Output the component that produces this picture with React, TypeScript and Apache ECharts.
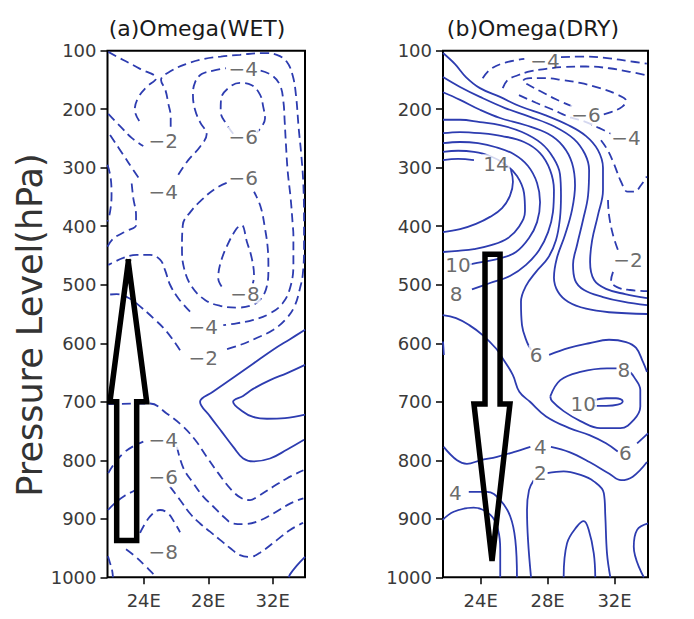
import React, { useEffect, useRef } from 'react';
import * as echarts from 'echarts';

// ---------- axes ----------
const LON_TICKS = [24, 28, 32];
const LON_MIN = 21.75;
const LON_MAX = 34;
const P_MIN = 100;
const P_MAX = 1000;
const P_STEP = 100;

// ---------- (a) Omega (WET) : negative contours (dashed), [lon, hPa] ----------
const wetA = [[21.8,102],[22.73,116],[23.77,131],[24.76,147],[24.18,162],[23.66,180],[23.44,201],[23.72,220]];
const wetB = [[21.8,208],[22.53,229],[23.25,249],[23.97,263]];
const wetC = [[25.67,230],[25.67,213],[25.52,190],[25.34,167],[25.07,150],[25.73,134],[26.7,122],[27.74,114],[28.77,110],[29.97,107],[31.41,104],[32.25,107],[32.87,119],[33.24,143],[33.44,176],[33.61,233],[33.77,278],[33.9,330],[33.94,398],[33.94,437],[33.86,483],[33.69,506],[33.38,535],[32.87,557],[32.04,577],[31.0,591],[29.97,603],[28.93,612]];
const wetD = [[26.25,612],[25.42,580],[24.59,557],[23.77,537],[23.15,524],[22.32,516],[21.8,517]];
const wetE = [[21.91,244],[22.73,278],[23.35,304],[23.77,321]];
const wetF = [[26.14,312],[26.76,287],[27.49,264],[27.9,243],[27.49,222],[27.18,201],[27.05,176],[27.18,154],[27.59,140],[28.31,134],[29.1,130]];
const wetG = [[31.25,134],[31.94,142],[32.45,159],[32.66,187],[32.74,221],[32.82,261],[32.93,307],[33.11,352],[33.24,398],[33.28,415],[33.28,466],[33.07,506],[32.6,532],[31.83,549],[30.8,560],[29.76,566],[28.93,569]];
const wetH = [[26.87,546],[26.14,523],[25.63,500],[25.32,475],[25.01,457],[24.39,449],[23.56,449],[22.73,454],[22.11,462],[21.8,466]];
const wetI = [[29.55,242],[29.14,226],[28.77,204],[28.79,183],[29.24,164],[29.97,155],[30.7,159],[31.21,175],[31.41,196],[31.52,216],[31.0,240]];
const wetJ = [[29.14,326],[28.42,336],[27.59,355],[26.91,375],[26.42,398],[26.37,438],[26.5,472],[26.97,503],[27.8,526],[28.73,536],[29.76,539],[30.59,536],[31.21,526],[31.63,503],[31.73,472],[31.69,438],[31.52,404],[31.25,367],[30.84,341]];
const wetK = [[28.83,503],[28.62,489],[28.73,466],[29.14,435],[29.76,404],[30.07,398],[30.39,426],[30.7,455],[30.84,486],[30.76,498]];
const wetL = [[21.75,295],[21.95,318],[22.0,347],[21.91,375],[21.75,392]];
const wetM = [[23.25,327],[23.35,352],[23.52,381],[23.52,398],[22.94,408],[22.11,421],[21.75,435]];
const wetN = [[21.78,704],[24.39,703],[25.42,720],[26.35,740],[27.18,765],[27.9,794],[28.62,822],[29.45,851],[30.07,865],[30.59,868],[31.0,863],[32.04,845],[32.87,831],[33.9,817]];
const wetO = [[21.8,822],[22.11,808],[22.73,788],[23.35,776],[23.97,768]];
const wetP = [[26.06,777],[26.45,813],[27.07,839],[27.69,862],[28.31,879],[28.93,896],[29.55,908],[30.17,909],[31.0,905],[32.04,891],[33.07,874],[33.9,865]];
const wetQ = [[21.78,885],[22.22,873],[22.84,860],[23.46,851],[23.77,841]];
const wetR = [[25.63,845],[26.25,868],[26.87,891],[27.49,908],[28.11,922],[28.73,936],[29.35,950],[29.97,962],[30.59,965],[31.21,958],[32.27,936],[33.07,919],[33.88,907]];
const wetS = [[23.77,924],[24.39,896],[25.01,885],[25.52,891],[25.94,908],[26.25,923]];
const wetT = [[22.9,952],[23.46,964],[24.08,980],[24.51,992],[24.82,1000]];
const wetU = [[21.78,964],[21.91,976],[22.03,987],[22.09,1000]];
// zero contours (solid)
const wetZ1 = [[34.0,577],[33.07,593],[32.02,611],[30.78,635],[29.54,659],[28.29,683],[27.49,700],[28.11,725],[28.83,751],[29.55,777],[30.17,797],[30.79,802],[31.83,797],[32.87,782],[33.94,765]];
const wetZ2 = [[34.0,637],[32.89,651],[31.83,663],[30.78,678],[30.16,690],[29.54,700],[30.16,717],[30.78,726],[31.64,729],[32.76,728],[34.0,722]];
const wetZ3 = [[34.0,965],[33.49,980],[33.07,995],[33.0,1000]];
// contour labels [text, lon, hPa]
const wetLabels = [['−2',25.21,255],['−4',25.21,341],['−4',30.17,131],['−6',30.17,247],['−6',30.17,318],['−8',30.28,515],['−4',27.69,572],['−2',27.69,626],['−4',25.21,765],['−6',25.21,829],['−8',25.21,956]];
// upward arrow outline
const wetArrow = [[23.04,461],[24.18,700],[23.56,700],[23.56,937],[22.32,937],[22.32,700],[21.9,700],[23.04,461]];

// ---------- (b) Omega (DRY) ----------
// positive / zero contours (solid)
const dry0 = [[21.75,104],[22.47,123],[23.12,145],[23.96,164],[25.16,179],[26.35,195],[27.85,210],[29.22,227],[30.3,246],[31.01,270],[31.31,300],[31.31,338],[31.01,381],[30.66,424],[30.54,461],[30.78,492],[31.49,507],[32.63,516],[33.94,523]];
const dry2 = [[21.75,145],[22.77,162],[23.96,179],[25.46,198],[26.95,213],[28.44,230],[29.58,251],[30.24,277],[30.48,304],[30.42,347],[30.12,389],[29.76,432],[29.52,466],[29.64,492],[30.18,509],[31.31,521],[32.51,529],[33.94,535]];
const dry4 = [[21.75,171],[22.77,184],[23.96,201],[25.16,215],[26.65,227],[28.03,242],[28.92,263],[29.46,292],[29.64,330],[29.46,372],[29.04,415],[28.56,454],[28.38,488],[28.62,512],[29.22,529],[30.3,541],[31.67,547],[33.94,550]];
const dry6a = [[21.75,218],[22.77,218],[23.96,222],[25.16,227],[26.47,239],[27.61,258],[28.32,282],[28.74,311],[28.8,347],[28.74,386],[28.5,424],[28.03,454],[27.31,478],[26.71,502],[26.41,529],[26.47,569],[26.77,598],[27.01,611]];
const dry6b = [[28.09,620],[29.28,608],[30.48,600],[31.67,594],[32.69,598],[33.29,608],[33.7,632],[33.94,649]];
const dry8 = [[21.75,241],[22.77,239],[23.96,241],[25.28,246],[26.59,256],[27.55,275],[28.15,304],[28.38,338],[28.32,376],[28.03,410],[27.49,441],[26.71,466],[25.75,485],[24.56,497],[23.48,508]];
const dry10 = [[21.75,258],[22.77,256],[23.84,258],[24.92,265],[25.99,277],[26.83,297],[27.37,326],[27.55,359],[27.37,393],[26.89,420],[26.11,444],[25.16,455],[24.14,461],[23.36,465]];
const dry12 = [[21.75,273],[22.65,271],[23.6,273],[24.56,280],[25.46,294],[26.17,314],[26.59,343],[26.65,374],[26.29,401],[25.64,420],[24.68,432],[23.6,439],[22.65,442],[21.75,444]];
const dry14a = [[21.75,287],[22.65,285],[23.6,287]];
const dry14b = [[25.81,304],[25.93,324],[25.75,348],[25.28,369],[24.56,384],[23.72,396],[22.77,405],[21.75,410]];
const dryEdge = [[21.75,597],[21.8,620]];
const dry6L = [[21.73,552],[22.53,557],[23.32,569],[24.12,586],[24.92,609],[25.32,626],[25.92,654],[26.31,683],[26.95,700],[27.91,725],[29.3,745],[30.5,757],[31.49,771],[32.19,785]];
const dry6Lb = [[33.35,771],[34.0,754]];
const dry8L = [[28.16,691],[28.76,663],[29.96,649],[31.55,643],[32.15,643]];
const dry8Lb = [[32.95,650],[33.15,657],[33.54,680],[33.54,708],[33.15,731],[32.35,745],[31.15,745],[29.96,733],[28.96,716],[28.27,699],[28.16,691]];
const dry10L = [[30.75,697],[31.5,694],[32.09,694],[32.49,699],[32.19,705],[31.5,707],[30.8,707]];
const dry4L = [[21.79,777],[22.59,800],[23.18,806],[23.98,800],[24.98,794],[25.97,786],[26.97,777]];
const dry4Lb = [[28.2,777],[29.3,786],[30.5,803],[31.69,823],[32.39,834],[33.09,828],[33.94,803]];
const dry2La = [[27.01,1000],[26.83,936],[26.77,885],[26.89,851],[27.17,834]];
const dry2Lb = [[27.97,822],[28.96,819],[29.96,825],[30.76,836],[31.36,856],[31.45,896],[31.55,959],[31.75,1000]];
const dryQ0 = [[21.73,902],[22.39,888],[23.58,881],[24.57,893],[25.04,919],[25.17,953],[25.17,1000]];
const dryQ1 = [[23.29,854],[24.38,854],[25.17,868],[25.77,896],[26.07,936],[26.17,1000]];
const dryQ2 = [[28.96,1000],[29.16,942],[29.76,913],[30.16,904],[30.46,919],[30.76,959],[30.85,1000]];
const dryQ3 = [[33.75,1000],[33.15,948],[33.35,919],[34.0,908]];
// negative contours (dashed)
const dryN1a = [[24.12,147],[24.62,131],[25.52,120],[26.61,114]];
const dryN1b = [[28.8,111],[30.3,110],[31.69,113],[32.89,118],[33.93,122]];
const dryN2 = [[25.32,164],[25.62,150],[26.22,142],[27.01,135],[27.91,131],[28.9,128],[30.3,127],[31.69,130],[32.89,136],[33.93,142]];
const dryN3 = [[29.46,195],[28.5,183],[27.55,169],[26.77,157],[26.53,152],[26.95,147],[27.85,147],[28.86,150],[29.94,155],[31.13,164],[32.09,174],[32.69,186],[32.45,196],[31.79,205],[31.19,210]];
const dryN4 = [[26.29,176],[27.31,189],[28.32,201],[29.28,213],[30.3,222],[31.07,232],[31.79,242]];
const dryN5 = [[31.19,253],[31.59,270],[31.99,295],[32.39,324],[32.79,341],[33.19,341],[33.58,330],[33.93,315]];
const dryN6a = [[31.61,355],[31.67,381],[31.91,415],[32.21,441]];
const dryN6b = [[31.91,478],[31.79,493],[32.15,504],[32.93,509],[33.94,511]];
// labels
const dryLabels = [['−6',30.3,210],['−4',32.69,249],['14',24.92,294],['−2',32.81,458],['10',22.65,466],['8',22.53,516],['6',27.31,620],['8',32.55,646],['10',30.13,703],['4',27.57,777],['6',32.65,788],['2',27.57,822],['4',22.49,856]];
const dryTopLabels = [['−4',27.85,117]];
// downward arrow outline
const dryArrow = [[24.26,448],[25.16,448],[25.16,704],[25.75,704],[24.68,972],[23.6,704],[24.26,704],[24.26,448]];

const WET_DASHED = [wetA, wetB, wetC, wetD, wetE, wetF, wetG, wetH, wetI, wetJ, wetK, wetL, wetM, wetN, wetO, wetP, wetQ, wetR, wetS, wetT, wetU];
const WET_SOLID = [wetZ1, wetZ2, wetZ3];
const DRY_SOLID = [dry0, dry2, dry4, dry6a, dry6b, dry8, dry10, dry12, dry14a, dry14b, dryEdge, dry6L, dry6Lb, dry8L, dry8Lb, dry10L, dry4L, dry4Lb, dry2La, dry2Lb, dryQ0, dryQ1, dryQ2, dryQ3];
const DRY_DASHED = [dryN1a, dryN1b, dryN2, dryN3, dryN4, dryN5, dryN6a, dryN6b];

const BLUE = '#2d3cb0';
const FONT = "'DejaVu Sans', sans-serif";

function contour(data: number[][], g: number, dashed: boolean) {
  return {
    type: 'line', xAxisIndex: g, yAxisIndex: g, data, symbol: 'none', showSymbol: false,
    smooth: 0.4, silent: true, z: 2,
    lineStyle: { color: BLUE, width: 1.8, type: dashed ? [9, 5] : 'solid' },
  };
}

function labels(list: any[], g: number, masked: boolean) {
  return {
    type: 'scatter', xAxisIndex: g, yAxisIndex: g, symbolSize: 1, silent: true, z: 5,
    itemStyle: { color: 'rgba(0,0,0,0)' },
    label: {
      show: true, position: 'inside', formatter: '{b}', fontSize: 20, lineHeight: 20, color: '#454545',
      fontFamily: FONT, backgroundColor: masked ? '#ffffff' : 'transparent', padding: [0, 1],
    },
    data: list.map((l) => ({ name: l[0], value: [l[1], l[2]] })),
  };
}

function arrow(data: number[][], g: number) {
  return {
    type: 'line', xAxisIndex: g, yAxisIndex: g, data, symbol: 'none', smooth: false, silent: true, z: 10,
    lineStyle: { color: '#000', width: 5.5, join: 'miter', cap: 'square' },
  };
}

export default function App() {
  const ref = useRef<HTMLDivElement>(null);
  useEffect(() => {
    if (!ref.current) return;
    const chart = echarts.init(ref.current, null, { renderer: 'svg' });
    const grids = [
      { left: 107.5, top: 50.7, width: 197.5, height: 526.6 },
      { left: 443, top: 50.7, width: 205, height: 526.6 },
    ];
    const option: any = {
      animation: false,
      backgroundColor: '#ffffff',
      grid: grids.map((g) => ({ ...g, show: true, borderColor: '#000', borderWidth: 2, backgroundColor: 'transparent' })),
      xAxis: [0, 1].map((g) => ({
        gridIndex: g, type: 'value', min: LON_MIN, max: LON_MAX,
        splitLine: { show: false }, axisLine: { show: false },
        axisTick: { show: true, length: 7, customValues: LON_TICKS, lineStyle: { color: '#000', width: 1.5 } },
        axisLabel: { customValues: LON_TICKS, formatter: (v: number) => v + 'E', fontSize: 18, color: '#3a3a3a', margin: 14, fontFamily: FONT },
      })),
      yAxis: [0, 1].map((g) => ({
        gridIndex: g, type: 'value', inverse: true, min: P_MIN, max: P_MAX, interval: P_STEP,
        splitLine: { show: false }, axisLine: { show: false },
        axisTick: { show: true, length: 7, lineStyle: { color: '#000', width: 1.5 } },
        axisLabel: { formatter: (v: number) => String(v), fontSize: 18, color: '#3a3a3a', margin: 11, fontFamily: FONT },
      })),
      graphic: [
        { type: 'text', x: 197, y: 28, style: { text: '(a)Omega(WET)', font: `22px ${FONT}`, fill: '#1a1a1a', textAlign: 'center', textVerticalAlign: 'middle', align: 'center', verticalAlign: 'middle' } },
        { type: 'text', x: 533, y: 28, style: { text: '(b)Omega(DRY)', font: `22px ${FONT}`, fill: '#1a1a1a', textAlign: 'center', textVerticalAlign: 'middle', align: 'center', verticalAlign: 'middle' } },
        { type: 'text', x: 30, y: 325, rotation: Math.PI / 2, style: { text: 'Pressure Level(hPa)', font: `35px ${FONT}`, fill: '#333', textAlign: 'center', textVerticalAlign: 'middle', align: 'center', verticalAlign: 'middle' } },
      ],
      series: [
        ...WET_DASHED.map((d) => contour(d, 0, true)),
        ...WET_SOLID.map((d) => contour(d, 0, false)),
        ...DRY_SOLID.map((d) => contour(d, 1, false)),
        ...DRY_DASHED.map((d) => contour(d, 1, true)),
        labels(wetLabels, 0, true),
        labels(dryLabels, 1, true),
        labels(dryTopLabels, 1, false),
        arrow(wetArrow, 0),
        arrow(dryArrow, 1),
      ],
    };
    chart.setOption(option);
    return () => chart.dispose();
  }, []);
  return <div ref={ref} style={{ position: 'absolute', left: 0, top: 0, width: 694, height: 619 }} />;
}
